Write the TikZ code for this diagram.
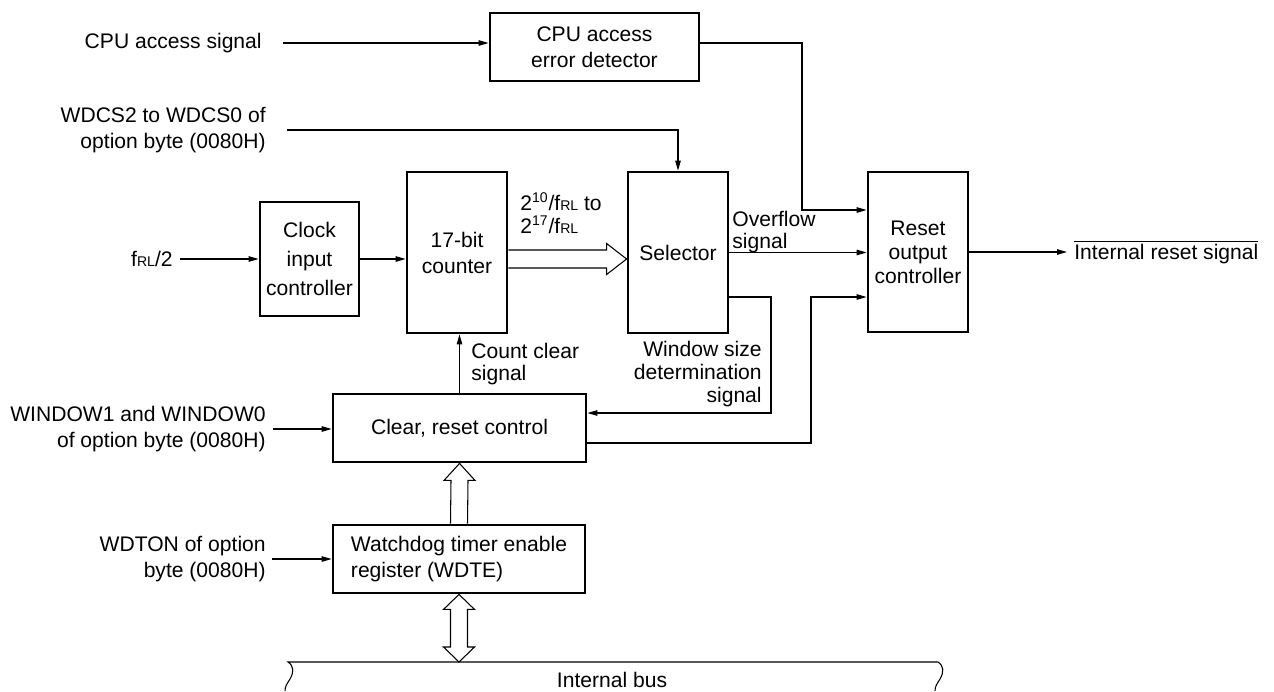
\documentclass[tikz,border=0pt]{standalone}
\usepackage{fontspec}
\setmainfont{Liberation Sans}
\usepackage{tikz}
\usetikzlibrary{
  arrows.meta,
  calc,
  positioning
}
\newcommand{\fRL}{f{\footnotesize RL}}

\begin{document}
\begin{tikzpicture}[
  x=0.02cm, y=-0.02cm,
  font=\fontsize{12}{14.8}\selectfont,
  >={Triangle[length=2mm,width=1.1mm]},
  blk/.style={draw, line width=1.6pt, align=center, inner sep=0pt},
  sig/.style={->, line width=0.6pt},
  lbl/.style={align=right, inner ysep=0pt},
  note/.style={align=left, inner sep=0pt, font=\fontsize{12}{13}\selectfont},
  hollow/.style={draw, line width=0.6pt},
]
  \useasboundingbox (0,0) rectangle (1274,691);

  % blocks
  \node[blk, minimum width=4.18cm, minimum height=1.36cm] (cpuerr) at (594.5,47) {CPU access\\error detector};
  \node[blk, minimum width=1.98cm, minimum height=2.28cm, font=\fontsize{12}{16.7}\selectfont] (clk) at (309.5,259) {Clock\\input\\controller};
  \node[blk, minimum width=2cm, minimum height=3.22cm] (cnt) at (457,252.5) {17-bit\\counter};
  \node[blk, minimum width=2cm, minimum height=3.22cm] (sel) at (678,252.5) {Selector};
  \node[blk, minimum width=2cm, minimum height=3.2cm, font=\fontsize{12}{13.6}\selectfont] (rst) at (918,252) {Reset\\output\\controller};
  \node[blk, minimum width=5.06cm, minimum height=1.36cm] (clr) at (459.5,428) {Clear, reset control};
  \node[blk, minimum width=5.04cm, minimum height=1.36cm, align=left] (wdte) at (459,559) {Watchdog timer enable\\register (WDTE)};

  % input and output labels
  \node[lbl, anchor=east, inner xsep=0.42cm] (cpusig) at (283,43) {CPU access signal};
  \node[lbl, anchor=east, inner xsep=0.42cm] (wdcs) at (287,130) {WDCS2 to WDCS0 of\\option byte (0080H)};
  \node[lbl, anchor=east, inner xsep=0.14cm] (fin) at (180,259) {\fRL/2};
  \node[lbl, anchor=east, inner xsep=0.14cm] (win) at (273,429) {WINDOW1 and WINDOW0\\of option byte (0080H)};
  \node[lbl, anchor=east, inner xsep=0.12cm] (wdton) at (272,559) {WDTON of option\\byte (0080H)};
  \node[lbl, anchor=west, inner xsep=0.14cm] (irst) at (1067,252) {$\overline{\mbox{Internal reset signal}}$};

  % signal labels
  \node[note, anchor=west] (frng) at (520,213) {2\textsuperscript{10}/\fRL{} to\\2\textsuperscript{17}/\fRL};
  \node[note, anchor=west, font=\fontsize{12}{12.5}\selectfont] (ovf) at (732,232) {Overflow\\signal};
  \node[note, anchor=west] (ccs) at (471,364) {Count clear\\signal};
  \node[note, anchor=east, align=right, font=\fontsize{12}{13.3}\selectfont] (wsz) at (762,374) {Window size\\determination\\signal};

  % internal bus
  \coordinate (busL) at (288,662);
  \coordinate (busR) at (938,662);
  \draw[line width=0.6pt] (285,691) .. controls (285,686) and (287,684) .. (290,679)
    .. controls (294,672) and (294,666) .. (busL) -- (busR)
    .. controls (944,666) and (944,672) .. (940,679)
    .. controls (937,684) and (935,686) .. (935,691);
  \node (bus) at (612,680) {Internal bus};

  % signals
  \draw[sig] (cpusig.east) -- (cpusig.east -| cpuerr.west);
  \draw[sig] (cpuerr.east |- cpusig.east) -| (802,210) -- (rst.west |- 0,210);
  \draw[sig] (wdcs.east) -| (sel.north);
  \draw[sig] (fin.east) -- (clk.west |- fin.east);
  \draw[sig] (clk.east) -- (clk.east -| cnt.west);
  \draw[sig] (sel.east) -- (sel.east -| rst.west);
  \draw[sig] (sel.east |- 0,297) -| (771,413) -- (clr.east |- 0,413);
  \draw[sig] (clr.east |- 0,443) -| (811,297) -- (rst.west |- 0,297);
  \draw[sig] (clr.north) -- (clr.north |- cnt.south);
  \draw[sig] (win.east) -- (clr.west |- win.east);
  \draw[sig] (wdton.east) -- (wdte.west |- wdton.east);
  \draw[sig] (rst.east) -- (irst.west);

  % hollow bus arrows
  \draw[hollow] ($(cnt.east)+(0,-2.5)$) -- ($(sel.west)+(-20,-2.5)$) -- ($(sel.west)+(-20,-9)$)
    -- ($(sel.west)+(0,6.5)$) -- ($(sel.west)+(-20,22)$) -- ($(sel.west)+(-20,15.5)$) -- ($(cnt.east)+(0,15.5)$);
  \draw[hollow] ($(wdte.north)+(-8.5,0)$) -- ($(clr.south)+(-8.5,17)$) -- ($(clr.south)+(-15.5,17)$)
    -- (clr.south) -- ($(clr.south)+(15.5,17)$) -- ($(clr.south)+(8.5,17)$) -- ($(wdte.north)+(8.5,0)$);
  \coordinate (busT) at (wdte.south |- busL);
  \draw[hollow] (wdte.south) -- ++(15.5,15) -- ++(-7,0) -- ($(busT)+(8.5,-15)$) -- ++(7,0) -- (busT)
    -- ++(-15.5,-15) -- ++(7,0) -- ($(wdte.south)+(-8.5,15)$) -- ++(-7,0) -- cycle;
\end{tikzpicture}
\end{document}
